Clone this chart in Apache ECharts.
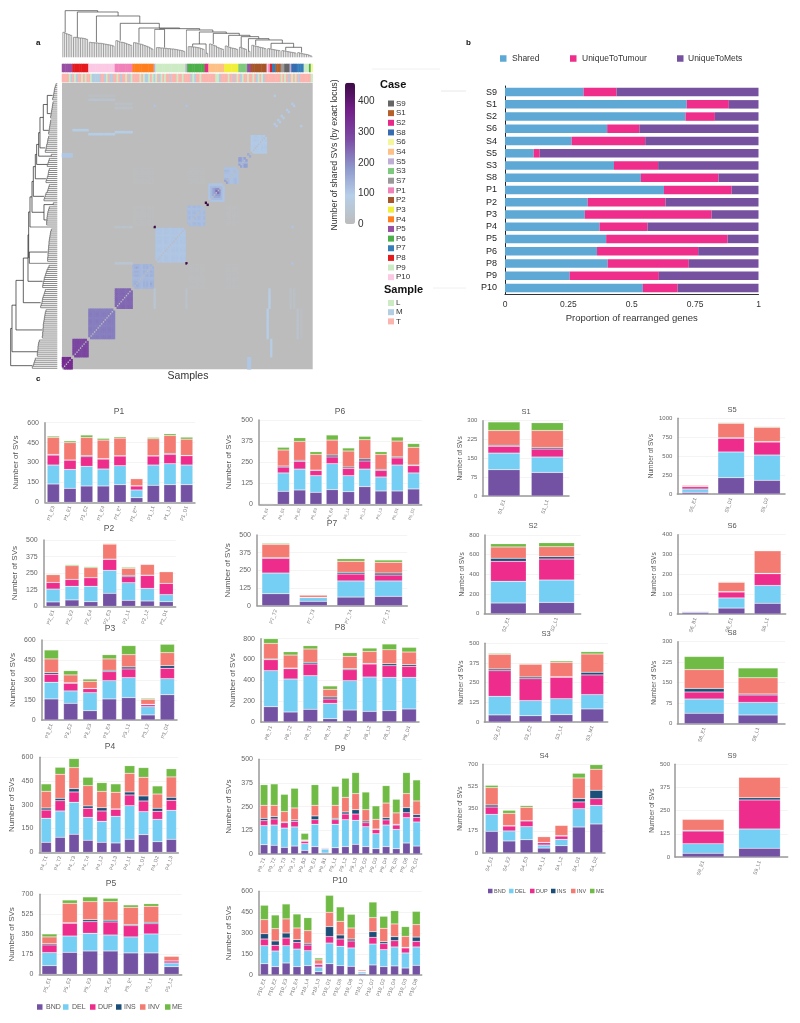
<!DOCTYPE html>
<html>
<head>
<meta charset="utf-8">
<title>Shared SVs and SV classes per sample</title>
<style>html,body{margin:0;padding:0;background:#fff}#main{width:800px;height:1023px}</style>
<script src="https://cdn.jsdelivr.net/npm/echarts@6/dist/echarts.min.js"></script>
</head>
<body>
<div id="main"></div>
<script>
// ---- panel b, proportion of rearranged genes
const propCases = ["S9","S1","S2","S6","S4","S5","S3","S8","P1","P2","P3","P4","P5","P6","P8","P9","P10"];
const propShared = [0.31,0.717,0.712,0.403,0.263,0.113,0.43,0.536,0.627,0.326,0.315,0.373,0.399,0.363,0.405,0.255,0.544];
const propTumour = [0.13,0.166,0.116,0.127,0.29,0.024,0.174,0.306,0.267,0.307,0.5,0.189,0.479,0.399,0.32,0.352,0.137];
const propMets = [0.56,0.117,0.172,0.47,0.447,0.863,0.396,0.158,0.106,0.367,0.185,0.438,0.122,0.238,0.275,0.393,0.319];

// ---- panel c, one row per sample: BND, DEL, DUP, INS, INV, ME
const svTypes = ["BND","DEL","DUP","INS","INV","ME"];
const P1_labels = ["P1_E3","P1_E1","P1_E2","P1_E4","P1_E*","P1_E**","P1_L1","P1_L2","P1_D1"];
const P1_values = [[138,143,75,5,128,10],[105,143,70,1,131,13],[123,148,73,8,137,18],[123,128,75,3,140,13],[133,143,73,2,133,10],[35,58,30,2,53,0],[128,153,68,2,128,10],[133,158,70,7,136,13],[133,148,70,2,123,15]];
const P2_labels = ["P2_E1","P2_E2","P2_E4","P2_E3","P2_L1","P2_L2","P2_D1"];
const P2_values = [[33,97,50,0,58,5],[48,103,52,0,103,8],[35,116,65,0,75,8],[98,173,83,2,113,5],[45,133,45,10,53,8],[40,95,98,2,81,0],[35,53,85,0,88,0]];
const P3_labels = ["P3_E1","P3_E2","P3_E3","P3_E4","P3_L1","P3_L2","P3_D1"];
const P3_values = [[158,125,60,12,103,67],[125,93,57,5,58,32],[70,135,30,2,53,17],[158,137,68,10,85,32],[168,150,65,15,92,68],[38,62,15,3,37,8],[190,120,78,20,97,63]];
const P4_labels = ["P4_T1","P4_T2","P4_T3","P4_T4","P4_L2","P4_L3","P4_L1","P4_D1","P4_D2","P4_L3"];
const P4_values = [[63,152,52,13,105,47],[95,166,65,15,152,44],[114,202,65,21,133,57],[76,145,57,15,128,53],[63,133,65,21,103,55],[59,168,45,2,105,53],[82,213,67,19,118,48],[112,145,67,32,118,61],[67,141,51,19,90,51],[82,183,63,19,129,52]];
const P5_labels = ["P5_E1","P5_E2","P5_E3","P5_E4","P5_E*","P5_L1","P5_L2"];
const P5_values = [[76,114,67,11,59,26],[192,143,111,6,169,29],[204,155,102,17,158,41],[204,140,114,15,163,29],[187,140,99,9,151,21],[187,166,90,12,140,23],[67,32,18,0,41,0]];
const P6_labels = ["P6_B1","P6_E1","P6_E2","P6_E3","P6_E4","P6_L1","P6_L2","P6_L3","P6_D1","P6_D2"];
const P6_values = [[4,2,0,0,0,0],[77,109,35,6,95,16],[85,124,46,6,112,22],[71,99,31,2,93,16],[87,154,40,11,89,30],[75,95,43,8,95,18],[105,104,48,12,114,20],[79,83,39,6,89,16],[79,154,42,6,94,24],[91,95,43,4,105,22]];
const P7_labels = ["P7_T2","P7_T3","P7_T4","P7_T1"];
const P7_values = [[85,146,104,5,94,7],[31,26,2,0,16,0],[61,114,49,12,78,18],[66,109,42,14,76,16]];
const P8_labels = ["P8_T1","P8_T2","P8_T3","P8_T4","P8_L1","P8_L2","P8_L3","P8_D1"];
const P8_values = [[147,346,105,7,150,45],[96,317,99,6,125,32],[122,323,112,16,128,32],[32,147,42,19,74,32],[115,282,105,10,118,36],[102,330,125,6,115,32],[109,320,112,19,134,55],[125,304,105,16,122,45]];
const P9_labels = ["P9_T1","P9_T2","P9_T3","P9_T4","P9_B2","P9_E1","P9_B1","P9_L1","P9_L2","P9_L3","P9_D2","P9_D3","P9_D4","P9_D5","P9_D6","P9_D1"];
const P9_values = [[49,101,26,12,69,109],[46,107,32,12,60,113],[35,102,28,4,55,91],[42,101,30,7,63,104],[19,36,12,3,4,35],[39,118,24,20,56,109],[5,21,4,2,3,0],[33,124,24,7,69,100],[39,142,30,11,77,101],[51,127,33,23,85,111],[39,105,21,9,60,93],[28,79,22,3,51,71],[39,114,27,12,77,92],[28,102,23,4,60,72],[58,134,26,27,74,111],[42,127,25,14,72,111]];
const P10_labels = ["P10_E1","P10_E2","P10_E3","P10_E4","P10_L4","P10_L3","P10_D1","P10_D5","P10_D6","P10_L2","P10_D7","P10_D2","P10_D4","P10_D3","P10_D8"];
const P10_values = [[81,129,48,38,101,103],[60,112,41,31,88,98],[86,124,55,36,101,107],[60,126,48,19,84,100],[67,107,41,12,91,93],[24,33,19,3,29,14],[81,148,46,72,102,122],[67,139,52,29,98,103],[62,132,50,14,79,98],[10,12,4,3,9,0],[72,150,48,41,100,112],[60,122,43,14,96,86],[65,136,45,29,91,95],[50,108,36,4,79,70],[69,132,40,31,89,95]];
const S1_labels = ["S1_E1","S1_L1"];
const S1_values = [[105,66,27,4,59,34],[94,61,32,6,68,31]];
const S2_labels = ["S2_E1","S2_L1"];
const S2_values = [[108,221,203,31,115,34],[115,227,214,24,101,41]];
const S3_labels = ["S3_E1","S3_E2","S3_L1","S3_M1"];
const S3_values = [[45,118,163,11,93,6],[40,96,139,11,81,4],[47,101,136,4,91,9],[83,91,125,17,116,15]];
const S4_labels = ["S4_E1","S4_E2","S4_E3","S4_L1","S4_L2","S4_D1","S4_D2"];
const S4_values = [[171,134,58,16,137,18],[95,79,39,3,97,24],[105,103,45,2,106,13],[39,24,19,2,45,0],[58,50,26,3,81,0],[205,145,53,26,163,37],[229,147,53,66,166,36]];
const S5_labels = ["S5_E1","S5_D1","S5_D2"];
const S5_values = [[22,44,31,2,16,0],[216,339,181,8,190,9],[181,334,172,5,189,9]];
const S6_labels = ["S6_B1","S6_E1","S6_L1"];
const S6_values = [[8,4,0,0,3,0],[30,51,30,2,47,3],[54,90,59,2,114,0]];
const S8_labels = ["S8_E1","S8_L1"];
const S8_values = [[38,52,26,13,69,48],[32,46,27,4,59,36]];
const S9_labels = ["S9_E1","S9_L1"];
const S9_values = [[20,52,68,4,59,0],[47,104,157,12,110,2]];

// ---- panel a, annotation strips (samples in clustering order)
const caseNames = ["S9","S1","S2","S8","S6","S4","S5","S3","S7","P1","P2","P3","P4","P5","P6","P7","P8","P9","P10"];
const stripCases = ["P5","P8","P10","P1","P4","S5","P9","S5","P6","S2","S4","P3","S3","P5","P2","P10","P1","P8","P7","S1","S7","S9","S5","S8","P7","P9","P6","S6"];
const stripCounts = [6,9,15,10,12,1,17,1,10,2,9,8,5,2,9,1,1,1,2,3,2,3,1,3,4,3,1,1];
const sampleNames = ["L","M","T"];
const sampleStrip = "TTTTLM"+"TLMTTLTLT"+"TLMMMMMTTMLTMMT"+"TLTMTTLTML"+"TTTTLTLMMLTL"+"M"+"LTMLTLTTMTTTLTTLT"+"T"+"TTMLMTTLTT"+"TT"+"TTTTLLMTT"+"TTLTTMTL"+"TMLTT"+"LT"+"TLTMLTLMT"+"TTTTTTTTLTLTMTLTLTMTTTTTTL";

// ---- panel a, shared SVs: level of each sample inside its block on the diagonal
const blockStarts = [0,6,15,30,40,53,71,81,83,92,100,105,107,120,122,124,127,130];
const blockLevels = [
  [350,345,340,350,345,350],
  [295,290,288,295,292,285,290,295,288],
  [218,220,212,215,222,218,212,215,220,218,212,218,220,215,212],
  [245,248,240,242,250,245,240,248,242,245],
  [135,145,175,140,132,128,142,135,145,132,160,138],
  [108,110,114,108,106,110,112,108,106,110,114,108,110,106,112,108,110],
  [125,132,118,128,135,122,130,125,118,128],
  [460,460],
  [110,125,150,170,260,240,190,125,110],
  [165,180,130,115,115,120,128,115],
  [185,170,135,175,170],
  [150,150],
  [100,102,108,105,102,100,108,102,105],
  [100,100],[100,100],[100,100],[100,100],[100,100]
];
// off-diagonal patches: colFrom, colTo, rowFrom, rowTo, value (mirrored when built)
const sharedBands = [
  [0,6,105,107,105],[15,30,116,117,95],[30,40,117,118,85],[6,15,118,119,85],
  [52,53,70,71,460],[15,30,133,134,35],[30,40,131,132,20],[52,53,130,131,110],[70,71,130,131,110],
  [52,53,30,40,45],[70,71,30,40,30],[120,121,135,136,70],
  [40,52,92,100,5],[40,52,71,81,4],[71,81,92,100,5],[30,40,129,130,22],[15,30,135,136,15]
];

// ---- panel a, clustering tree. Arrays are leaf heights, objects are merges
const treeRoot = {h:140, l:[75,72,70,68,66,62], r:{h:136, l:[60,60,59,58,58,57,56,54,52],
  r:{h:124, l:[45,44,44,43,43,42,42,41,40,39,38,37,36,34,32], r:{h:102, l:[50,48,46,45,44,42,40,38,36,33],
  r:{h:88, l:[44,43,42,40,39,37,35,33,31,28,25,22], r:{h:86,
    l:{h:84, l:[84], r:[29,29,28,28,27,27,26,26,25,25,24,23,22,21,20,18,17]},
    r:{h:82, l:[80], r:{h:76, l:{h:40, l:[32,32,31,31,30,29,28,26,24,22], r:[12,12]},
      r:{h:72, l:[40,38,36,34,30,28,26,24,20], r:{h:66, l:[34,32,30,28,27,26,24,22], r:{h:62, l:[30,28,26,24,20],
      r:{h:56, l:[18,18], r:{h:52, l:[36,34,33,32,30,29,28,26,24],
      r:{h:42, l:[26,25,24,23,22,21,20,18], r:{h:30, l:[20,19,18,17,16,15,14,13,12], r:[14,12,11,10,9,8,6,4,2]}}}}}}}}}
  }}}}}};

const caseColors = {S9:"#666666",S1:"#b5602b",S2:"#e7298a",S8:"#386cb0",S6:"#f5f599",S4:"#fdc086",S5:"#beaed4",S3:"#7fc97f",S7:"#999999",P1:"#f081b9",P2:"#a65628",P3:"#f2ef3a",P4:"#ff7f1f",P5:"#984ea3",P6:"#4daf4a",P7:"#377eb8",P8:"#e41a1c",P9:"#ccebc5",P10:"#fbc9e3"};
const sampleColors = {L:"#ccebc5",M:"#b3cde3",T:"#fbb4ae"};
const svColors = ["#7452a3","#75cef3","#ee2c8c","#1b4f79","#f47b72","#70bb45"];
const propColors = ["#5ea8d6","#ef2e8c","#76519f"];
const FONT = "Liberation Sans";
const N = 142;

// left, right, top, bottom, title x, title y, name gap, axis max, small type
const panels = [
  ["P1",P1_labels,P1_values,600,45,195,422.7,502.3,119,412,25,0],
  ["P2",P2_labels,P2_values,500,43.7,175.7,540,606.3,109,529,25,0],
  ["P3",P3_labels,P3_values,600,41.7,177,640,720,110,629,25,0],
  ["P4",P4_labels,P4_values,600,39.3,178.3,757.3,852.3,110,747,24,0],
  ["P5",P5_labels,P5_values,700,39.3,181.7,894.3,974.3,111,884,24,0],
  ["P6",P6_labels,P6_values,500,259,421.7,420,504.3,340,412,26,0],
  ["P7",P7_labels,P7_values,500,257,407.3,535,605.7,332,524,25,0],
  ["P8",P8_labels,P8_values,800,261,419,638.7,722,340,628,24,0],
  ["P9",P9_labels,P9_values,500,259,421.7,759.3,854,340,749,26,0],
  ["P10",P10_labels,P10_values,600,259,421.7,891.3,975,340,881,26,0],
  ["S1",S1_labels,S1_values,300,482.3,569,420.7,496,526,412,19,1],
  ["S2",S2_labels,S2_values,800,484.3,580.7,535,613.7,533,526,19,1],
  ["S3",S3_labels,S3_values,500,484.3,607.7,643.3,722,546,634,20,1],
  ["S4",S4_labels,S4_values,700,483,605,764.3,853,544,756,19,1],
  ["S5",S5_labels,S5_values,1000,677.3,785,418.3,494,732,410,21,1],
  ["S6",S6_labels,S6_values,400,677.3,785.7,534.7,614,732,526,20,1],
  ["S8",S8_labels,S8_values,300,677.3,785,641.7,723.7,732,633,20,1],
  ["S9",S9_labels,S9_values,500,675,787.7,764.3,857,732,756,19,1]
];

// sparse matrix for the heatmap, anything left out shows the grid's grey background
function buildShared() {
  const cells = new Map();
  function put(c, r, v) { cells.set(c + "_" + r, [c, r, v]); }
  blockStarts.forEach(function (start, b) {
    const lv = blockLevels[b];
    lv.forEach(function (a, i) {
      lv.forEach(function (v, j) {
        if (i !== j) put(start + i, start + j, Math.min(a, v));
      });
    });
  });
  sharedBands.forEach(function (s) {
    for (let c = s[0]; c < s[1]; c++) {
      for (let r = s[2]; r < s[3]; r++) {
        put(c, r, s[4]);
        put(r, c, s[4]);
      }
    }
  });
  return Array.from(cells.values());
}

function buildCaseStrip() {
  const out = [];
  let pos = 0;
  stripCases.forEach(function (c, k) {
    for (let i = 0; i < stripCounts[k]; i++) out.push([pos++, 0, caseNames.indexOf(c)]);
  });
  return out;
}

function buildSampleStrip() {
  return sampleStrip.split("").map(function (c, i) { return [i, 0, sampleNames.indexOf(c)]; });
}

// walk the tree left to right, collect line pieces as [x1, h1, x2, h2, leaf?]
function treeSegments(root) {
  const segs = [];
  let pos = 0;
  function walk(node) {
    if (Array.isArray(node)) {
      const first = pos;
      node.forEach(function (h, i) {
        const x = pos + 0.5;
        segs.push([x, 0, x, h, 1]);
        if (i > 0) {
          segs.push([x - 1, node[i - 1], x, node[i - 1], 1]);
          segs.push([x, node[i - 1], x, h, 1]);
        }
        pos++;
      });
      return { x: first + Math.max(0.5, node.length * 0.3), h: node[0] };
    }
    const a = walk(node.l);
    const b = walk(node.r);
    segs.push([a.x, a.h, a.x, node.h, 0]);
    segs.push([b.x, b.h, b.x, node.h, 0]);
    segs.push([a.x, node.h, b.x, node.h, 0]);
    return { x: (a.x + b.x) / 2, h: node.h };
  }
  walk(root);
  return segs;
}

const grids = [], xAxes = [], yAxes = [], series = [], titles = [], graphics = [];
const indexCats = Array.from({ length: N }, function (_, i) { return String(i); });

function addGrid(g, x, y) {
  grids.push(g);
  xAxes.push(Object.assign({ gridIndex: grids.length - 1 }, x));
  yAxes.push(Object.assign({ gridIndex: grids.length - 1 }, y));
  return grids.length - 1;
}

function txt(text, x, y, size, extra) {
  graphics.push({
    type: "text", x: x, y: y, silent: true, rotation: extra && extra.rotation || 0,
    style: {
      text: text, fontSize: size, fontFamily: FONT, fill: extra && extra.fill || "#333",
      fontWeight: extra && extra.bold ? "bold" : "normal",
      align: extra && extra.align || "left", verticalAlign: "middle"
    }
  });
}

function swatch(color, x, y, size) {
  graphics.push({ type: "rect", silent: true, shape: { x: x, y: y - size / 2, width: size, height: size }, style: { fill: color } });
}

function rule(x1, x2, y, color) {
  graphics.push({ type: "line", silent: true, shape: { x1: x1, y1: y, x2: x2, y2: y }, style: { stroke: color, lineWidth: 1 } });
}

// ---- heatmap and strips
const heatGrid = addGrid(
  { left: 62, top: 82.7, width: 250.7, height: 286.6, show: true, backgroundColor: "#bcbcbc", borderWidth: 0 },
  { type: "category", data: indexCats, show: false },
  { type: "category", data: indexCats, show: false }
);
series.push({ type: "heatmap", xAxisIndex: heatGrid, yAxisIndex: heatGrid, data: buildShared(), silent: true, progressive: 0, animation: false });
const heatSeries = series.length - 1;

const caseGrid = addGrid(
  { left: 62, top: 64, width: 250.7, height: 8 },
  { type: "category", data: indexCats, show: false },
  { type: "category", data: ["case"], show: false }
);
series.push({ type: "heatmap", xAxisIndex: caseGrid, yAxisIndex: caseGrid, data: buildCaseStrip(), silent: true });
const caseSeries = series.length - 1;

const sampleGrid = addGrid(
  { left: 62, top: 74, width: 250.7, height: 8 },
  { type: "category", data: indexCats, show: false },
  { type: "category", data: ["sample"], show: false }
);
series.push({ type: "heatmap", xAxisIndex: sampleGrid, yAxisIndex: sampleGrid, data: buildSampleStrip(), silent: true });
const sampleSeries = series.length - 1;

// ---- dendrograms, same tree on both sides
const segs = treeSegments(treeRoot);
function drawSegment(color, leafColor, flip) {
  return function (params, api) {
    const a = flip ? [api.value(1), api.value(0)] : [api.value(0), api.value(1)];
    const b = flip ? [api.value(3), api.value(2)] : [api.value(2), api.value(3)];
    const p = api.coord(a), q = api.coord(b);
    return {
      type: "line", silent: true,
      shape: { x1: p[0], y1: p[1], x2: q[0], y2: q[1] },
      style: { stroke: api.value(4) ? leafColor : color, lineWidth: 0.7 }
    };
  };
}
const topTree = addGrid(
  { left: 62, top: 10, width: 250.7, height: 47.3 },
  { type: "value", min: 0, max: N, show: false },
  { type: "value", min: 0, max: 142, show: false }
);
series.push({ type: "custom", xAxisIndex: topTree, yAxisIndex: topTree, data: segs, renderItem: drawSegment("#444", "#777", false), silent: true, clip: false });
const leftTree = addGrid(
  { left: 10, top: 82.7, width: 47.3, height: 286.6 },
  { type: "value", min: 0, max: 142, inverse: true, show: false },
  { type: "value", min: 0, max: N, show: false }
);
series.push({ type: "custom", xAxisIndex: leftTree, yAxisIndex: leftTree, data: segs, renderItem: drawSegment("#222", "#555", true), silent: true, clip: false });

// ---- colour bar ticks, the bar itself is the visualMap
addGrid(
  { left: 345, top: 82.7, width: 10, height: 141.3 },
  { type: "value", min: 0, max: 1, show: false },
  {
    type: "value", min: 0, max: 462, interval: 100, position: "right",
    axisLine: { show: false }, axisTick: { show: false }, splitLine: { show: false },
    axisLabel: { fontSize: 10, color: "#333", fontFamily: FONT, margin: 3, showMaxLabel: false }
  }
);

// ---- panel b
const propGrid = addGrid(
  { left: 505, top: 86, width: 253.5, height: 208 },
  {
    type: "value", min: 0, max: 1, interval: 0.25,
    name: "Proportion of rearranged genes", nameLocation: "middle", nameGap: 19,
    nameTextStyle: { fontSize: 9.5, color: "#333", fontFamily: FONT },
    axisLine: { show: true, lineStyle: { color: "#333", width: 1 } },
    axisTick: { show: false }, splitLine: { show: false },
    axisLabel: { fontSize: 8.5, color: "#333", fontFamily: FONT, margin: 6, formatter: function (v) { return String(v); } }
  },
  {
    type: "category", data: propCases, inverse: true,
    axisLine: { show: true, lineStyle: { color: "#222", width: 1 } },
    axisTick: { show: false },
    axisLabel: { fontSize: 9, color: "#222", fontFamily: FONT, margin: 8 }
  }
);
[propShared, propTumour, propMets].forEach(function (vals, k) {
  series.push({
    type: "bar", stack: "prop", xAxisIndex: propGrid, yAxisIndex: propGrid, barWidth: 8.5,
    name: ["Shared", "UniqueToTumour", "UniqueToMets"][k], data: vals,
    itemStyle: { color: propColors[k] }, silent: true
  });
});

// ---- panel c
panels.forEach(function (p) {
  const small = p[11];
  const max = p[3];
  const g = addGrid(
    { left: p[4], width: p[5] - p[4], top: p[6], height: p[7] - p[6] },
    {
      type: "category", data: p[1],
      axisLine: { show: true, lineStyle: { color: "#999", width: 1.5 } },
      axisTick: { show: false },
      axisLabel: { rotate: 72, fontSize: p[0] === "P6" ? 4 : 5, color: "#777", fontFamily: FONT, margin: 4, interval: 0 }
    },
    {
      type: "value", min: 0, max: max, interval: max / 4,
      name: "Number of SVs", nameLocation: "middle", nameGap: p[10],
      nameTextStyle: { fontSize: small ? 6.5 : 8, color: "#555", fontFamily: FONT },
      axisLine: { show: true, lineStyle: { color: "#999", width: 1.5 } },
      axisTick: { show: false },
      splitLine: { lineStyle: { color: "#f4f4f4", width: 1 } },
      axisLabel: { fontSize: small ? 6 : 7, color: "#666", fontFamily: FONT, margin: small ? 5 : 6, formatter: function (v) { return String(v); } }
    }
  );
  svTypes.forEach(function (t, k) {
    series.push({
      type: "bar", stack: p[0], name: t, xAxisIndex: g, yAxisIndex: g, barWidth: "74%",
      data: p[2].map(function (row) { return row[k]; }),
      itemStyle: { color: svColors[k], borderColor: "rgba(255,255,255,0.35)", borderWidth: 0.5 }, silent: true
    });
  });
  titles.push({
    text: p[0], left: p[8], top: p[9], textAlign: "center", textVerticalAlign: "middle", padding: 0,
    textStyle: { fontSize: small ? 7.5 : 8.5, fontWeight: "normal", color: "#555", fontFamily: FONT }
  });
});

// ---- legends and loose text
["S9","S1","S2","S8","S6","S4","S5","S3","S7","P1","P2","P3","P4","P5","P6","P7","P8","P9","P10"].forEach(function (c, i) {
  const y = 103.5 + i * 9.65;
  swatch(caseColors[c], 388, y, 6);
  txt(c, 396, y, 8, { fill: "#333" });
});
sampleNames.forEach(function (s, i) {
  const y = 303 + i * 9.2;
  swatch(sampleColors[s], 388, y, 6);
  txt(s, 396, y, 8, { fill: "#333" });
});
txt("Case", 380, 85, 11, { bold: true, fill: "#111" });
txt("Sample", 384, 290, 11, { bold: true, fill: "#111" });
txt("a", 36, 43, 8, { bold: true, fill: "#111" });
txt("b", 466, 43, 8, { bold: true, fill: "#111" });
txt("c", 36, 379, 8, { bold: true, fill: "#111" });
txt("Samples", 188, 376, 10.5, { align: "center", fill: "#333" });
txt("Number of shared SVs (by exact locus)", 335, 155, 8.7, { rotation: Math.PI / 2, align: "center", fill: "#333" });
rule(372, 440, 69, "#f0f0f0");
rule(441, 466, 91, "#e8e8e8");
rule(433, 466, 288, "#f0f0f0");

[["Shared", 500, 512], ["UniqueToTumour", 570, 582], ["UniqueToMets", 677, 688]].forEach(function (l, k) {
  swatch(propColors[k], l[1], 58.5, 6.5);
  txt(l[0], l[2], 58.5, 8.5, { fill: "#333" });
});
[[37, 46], [63, 72], [90, 98], [116, 124], [140, 148], [165, 172]].forEach(function (l, k) {
  swatch(svColors[k], l[0], 1007, 5.5);
  txt(svTypes[k], l[1], 1007, 7, { fill: "#555" });
});
[[488, 494], [509, 515], [530, 536], [551, 557], [571, 577], [590, 596]].forEach(function (l, k) {
  swatch(svColors[k], l[0], 891, 4.5);
  txt(svTypes[k], l[1], 891, 5.5, { fill: "#555" });
});

const option = {
  animation: false,
  backgroundColor: "#fff",
  title: titles,
  grid: grids,
  xAxis: xAxes,
  yAxis: yAxes,
  series: series,
  graphic: graphics,
  visualMap: [
    {
      type: "continuous", seriesIndex: heatSeries, min: 0, max: 462, left: 345, top: 82.7,
      itemWidth: 10, itemHeight: 141.3, padding: 0, showLabel: false, calculable: false, hoverLink: false,
      inRange: { color: ["#bcbcbc", "#b6cfe8", "#8c96cb", "#7c4ba4", "#74208a", "#3c0a45"] }
    },
    {
      type: "piecewise", seriesIndex: caseSeries, show: false, dimension: 2,
      pieces: caseNames.map(function (c, i) { return { value: i, color: caseColors[c] }; })
    },
    {
      type: "piecewise", seriesIndex: sampleSeries, show: false, dimension: 2,
      pieces: sampleNames.map(function (s, i) { return { value: i, color: sampleColors[s] }; })
    }
  ]
};

const chart = echarts.init(document.getElementById("main"));
chart.setOption(option);
</script>
</body>
</html>
